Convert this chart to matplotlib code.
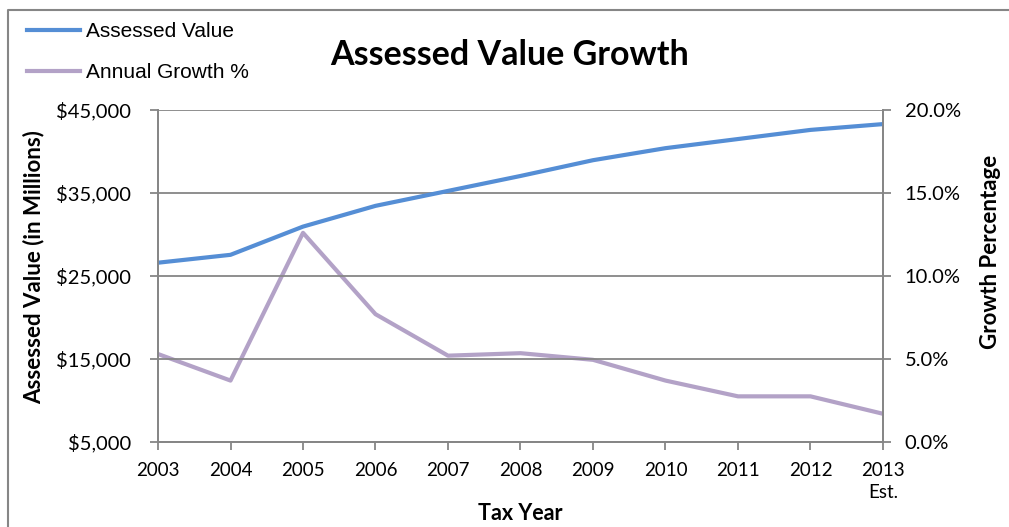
import matplotlib.pyplot as plt
from matplotlib.lines import Line2D
from matplotlib.ticker import FuncFormatter

years = [2003, 2004, 2005, 2006, 2007, 2008, 2009, 2010, 2011, 2012, 2013]
year_labels = ["2003", "2004", "2005", "2006", "2007", "2008", "2009", "2010", "2011", "2012", "2013\nEst."]
assessed_value = [26600, 27550, 30950, 33450, 35250, 37050, 38950, 40400, 41500, 42600, 43300]
annual_growth = [5.3, 3.7, 12.6, 7.7, 5.2, 5.35, 4.95, 3.7, 2.75, 2.75, 1.7]

blue = "#558ED5"
purple = "#B3A2C7"
grid_color = "#868686"

plt.rcParams["font.family"] = ["Lato", "DejaVu Sans"]

fig = plt.figure(figsize=(10.09, 5.27), dpi=100)
ax = fig.add_axes([0.1566, 0.1613, 0.7185, 0.63])
ax2 = ax.twinx()

l1, = ax.plot(years, assessed_value, color=blue, linewidth=3, label="Assessed Value")
l2, = ax2.plot(years, annual_growth, color=purple, linewidth=3, label="Annual Growth %")
ax.set_zorder(ax2.get_zorder() + 1)
ax.patch.set_visible(False)

ax.set_xlim(2003, 2013)
ax.set_ylim(5000, 45000)
ax.set_yticks([5000, 15000, 25000, 35000, 45000])
ax.yaxis.set_major_formatter(FuncFormatter(lambda v, p: f"${v:,.0f}"))
ax2.set_ylim(0, 20)
ax2.set_yticks([0, 5, 10, 15, 20])
ax2.yaxis.set_major_formatter(FuncFormatter(lambda v, p: f"{v:.1f}%"))

ax.set_xticks(years)
ax.set_xticklabels(year_labels, linespacing=1.35, va="top")
ax.grid(axis="y", color=grid_color, linewidth=1.3)

for a in (ax, ax2):
    for s in a.spines.values():
        s.set_color(grid_color)
        s.set_linewidth(1.3)
    a.spines["top"].set_visible(False)
    a.tick_params(colors=grid_color, labelcolor="black", width=1.3, length=5.5, labelsize=14.5)
ax.tick_params(axis="x", labelsize=13.5, pad=9)
ax.tick_params(axis="y", pad=14)
ax2.tick_params(axis="y", pad=10)

ax.set_ylabel("Assessed Value (in Millions)", fontsize=16, fontweight="bold", va="center")
ax.yaxis.set_label_coords(-0.172, 0.527)
ax2.set_ylabel("Growth Percentage", fontsize=16, fontweight="bold", va="center")
ax2.yaxis.set_label_coords(1.148, 0.572)
ax.set_xlabel("Tax Year", fontsize=15.5, fontweight="bold", va="center")
ax.xaxis.set_label_coords(0.5, -0.214)

fig.text(0.505, 0.895, "Assessed Value Growth", fontsize=24.5, fontweight="bold", ha="center", va="center")

fig.legend(handles=[l1, l2], loc="upper left", bbox_to_anchor=(0.0268, 0.958), frameon=False,
           prop={"family": "Liberation Sans", "size": 15}, handlelength=2.55, handletextpad=0.3,
           labelspacing=1.05, borderpad=0, borderaxespad=0)

# chart area border (top and left edges visible)
fig.lines.append(Line2D([0.008, 0.008, 1.0], [0.0, 0.981, 0.981], transform=fig.transFigure,
                        color=grid_color, linewidth=1.5))

fig.savefig("out.png", dpi=100)
